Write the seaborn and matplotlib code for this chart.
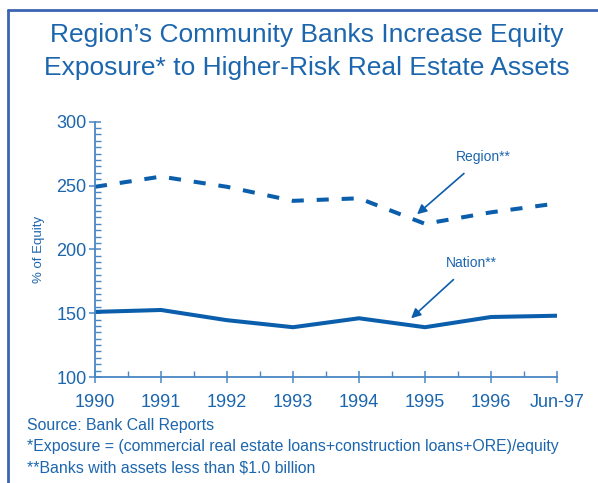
import matplotlib
matplotlib.use("Agg")
import matplotlib.pyplot as plt
import seaborn as sns
import pandas as pd
from matplotlib.lines import Line2D
from matplotlib.ticker import MultipleLocator

periods = ["1990", "1991", "1992", "1993", "1994", "1995", "1996", "Jun-97"]
region = [249, 257, 249, 238, 240, 220, 229, 236]
nation = [151, 152.5, 144.5, 139, 146, 139, 147, 148]
y_ticks = [100, 150, 200, 250, 300]

sns.set_style("white")
plt.rcParams["font.family"] = ["Liberation Sans", "DejaVu Sans"]

TXT = "#1c66ae"
LINE = "#0a5eab"
SPINE = "#4a86c4"

pos = list(range(len(periods)))
df = pd.DataFrame({
    "pos": pos * 2,
    "value": region + nation,
    "series": ["Region"] * len(pos) + ["Nation"] * len(pos),
})

fig = plt.figure(figsize=(5.98, 4.83), dpi=100)
ax = fig.add_axes([95 / 598, 1 - 377 / 483, (557 - 95) / 598, (377 - 121.7) / 483])

sns.lineplot(data=df[df.series == "Nation"], x="pos", y="value", ax=ax,
             color=LINE, lw=2.9, legend=False)
sns.lineplot(data=df[df.series == "Region"], x="pos", y="value", ax=ax,
             color=LINE, lw=2.9, legend=False, dashes=False)
ax.lines[-1].set_dashes((3, 3.2))

ax.set_xlim(0, len(periods) - 1)
ax.set_ylim(100, 300)
ax.set_xticks(pos)
ax.set_xticklabels(periods)
ax.set_yticks(y_ticks)
ax.xaxis.set_minor_locator(MultipleLocator(0.5))
ax.yaxis.set_minor_locator(MultipleLocator(5))

for s in ["top", "right"]:
    ax.spines[s].set_visible(False)
for s in ["left", "bottom"]:
    ax.spines[s].set_color(SPINE)
    ax.spines[s].set_linewidth(1.3)

ax.tick_params(axis="both", which="both", bottom=True, left=True)
ax.tick_params(axis="both", which="major", direction="inout", length=8, width=1.1,
               color=SPINE, labelcolor=TXT, labelsize=13, pad=2)
ax.tick_params(axis="both", which="minor", direction="in", length=4, width=1.0,
               color=SPINE)
ax.tick_params(axis="x", which="major", pad=8)
ax.set_xlabel("")
ax.set_ylabel("% of Equity", color=TXT, fontsize=9.5, labelpad=8)

ax.annotate("Region**", xy=(4.88, 227.5), xytext=(5.88, 272.5),
            color=TXT, fontsize=10, ha="center", va="center",
            arrowprops=dict(arrowstyle="-|>", color=LINE, lw=1.2,
                            mutation_scale=14, shrinkA=7, shrinkB=0))
ax.annotate("Nation**", xy=(4.79, 146), xytext=(5.71, 189.5),
            color=TXT, fontsize=10, ha="center", va="center",
            arrowprops=dict(arrowstyle="-|>", color=LINE, lw=1.2,
                            mutation_scale=14, shrinkA=7, shrinkB=0))

fig.text(307 / 598, 1 - 35 / 483, "Region\u2019s Community Banks Increase Equity",
         ha="center", va="center", color=TXT, fontsize=19.0)
fig.text(307 / 598, 1 - 68 / 483, "Exposure* to Higher-Risk Real Estate Assets",
         ha="center", va="center", color=TXT, fontsize=19.0)

notes = ["Source: Bank Call Reports",
         "*Exposure = (commercial real estate loans+construction loans+ORE)/equity",
         "**Banks with assets less than $1.0 billion"]
for i, n in enumerate(notes):
    fig.text(27 / 598, 1 - (425.5 + i * 21) / 483, n, ha="left", va="center",
             color=TXT, fontsize=11.4)

FRAME = "#3d64b3"
fig.add_artist(Line2D([8 / 598, 8 / 598], [0, 1 - 10 / 483], transform=fig.transFigure,
                      color=FRAME, lw=2))
fig.add_artist(Line2D([8 / 598, 1], [1 - 10 / 483, 1 - 10 / 483], transform=fig.transFigure,
                      color=FRAME, lw=2))

fig.savefig("out.png", dpi=100)
